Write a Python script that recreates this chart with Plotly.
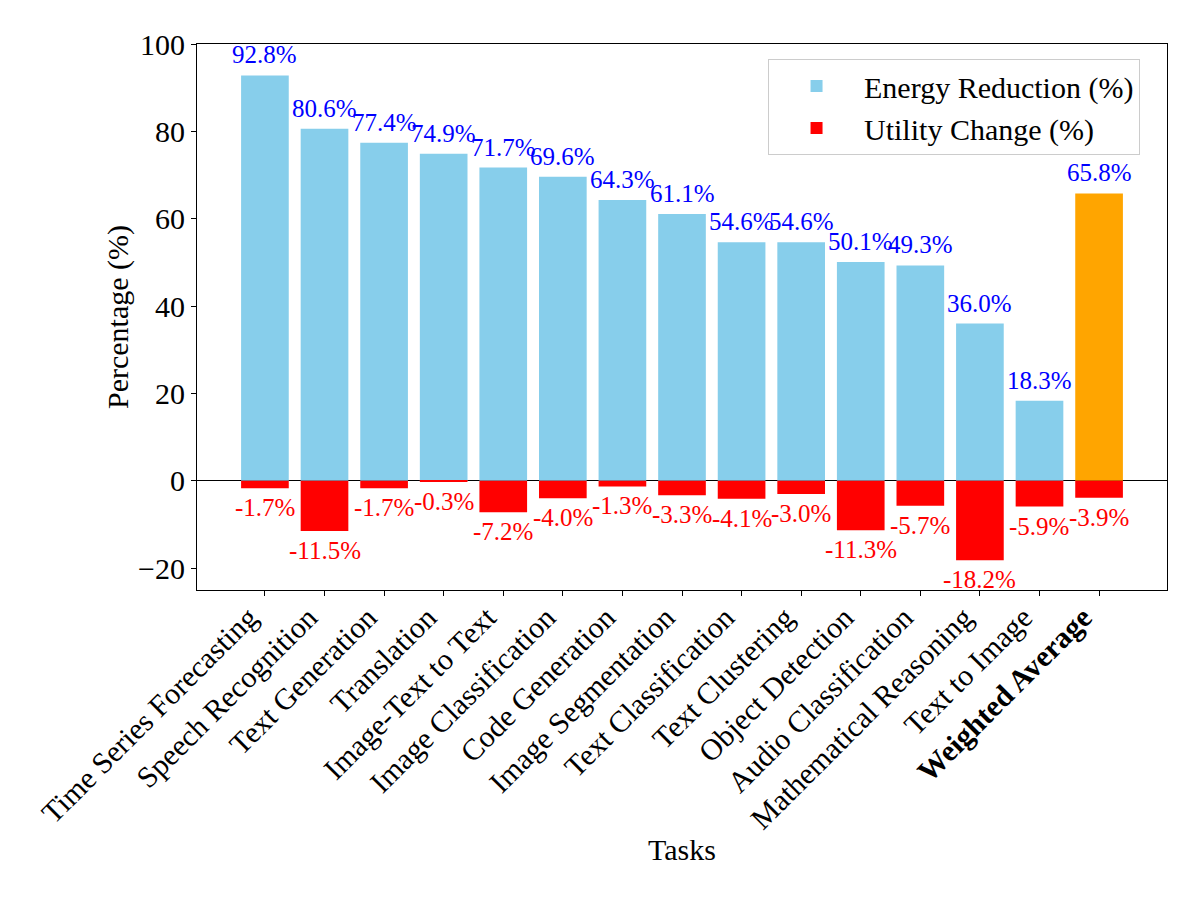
import plotly.graph_objects as go

tasks = ["Time Series Forecasting", "Speech Recognition", "Text Generation", "Translation",
         "Image-Text to Text", "Image Classification", "Code Generation", "Image Segmentation",
         "Text Classification", "Text Clustering", "Object Detection", "Audio Classification",
         "Mathematical Reasoning", "Text to Image", "Weighted Average"]
energy_reduction = [92.8, 80.6, 77.4, 74.9, 71.7, 69.6, 64.3, 61.1, 54.6, 54.6, 50.1, 49.3, 36.0, 18.3, 65.8]
utility_change = [-1.7, -11.5, -1.7, -0.3, -7.2, -4.0, -1.3, -3.3, -4.1, -3.0, -11.3, -5.7, -18.2, -5.9, -3.9]
yticks = [-20, 0, 20, 40, 60, 80, 100]

FONT = "Liberation Serif"
x = list(range(len(tasks)))
energy_colors = ["#87CEEB"] * (len(tasks) - 1) + ["#FFA500"]
ticktext = tasks[:-1] + ["<b>" + tasks[-1] + "</b>"]

fig = go.Figure()
fig.add_trace(go.Bar(x=x, y=energy_reduction, width=0.8, name="Energy Reduction (%)",
                     marker=dict(color=energy_colors, line=dict(width=0))))
fig.add_trace(go.Bar(x=x, y=utility_change, width=0.8, name="Utility Change (%)",
                     marker=dict(color="#FF0000", line=dict(width=0))))

annotations = []
for xi, v in zip(x, energy_reduction):
    annotations.append(dict(x=xi, y=v, text=f"{v:.1f}%", showarrow=False, yanchor="bottom",
                            yshift=5, font=dict(family=FONT, size=25, color="#0000FF")))
for xi, v in zip(x, utility_change):
    annotations.append(dict(x=xi, y=v, text=f"{v:.1f}%", showarrow=False, yanchor="top",
                            yshift=-4, font=dict(family=FONT, size=25, color="#FF0000")))

fig.update_layout(
    width=1200, height=900,
    paper_bgcolor="white", plot_bgcolor="white",
    margin=dict(l=189, r=41, t=36, b=318, autoexpand=False),
    barmode="overlay",
    font=dict(family=FONT, size=30, color="black"),
    annotations=annotations,
    showlegend=True,
    legend=dict(x=0.5887, y=0.9725, xanchor="left", yanchor="top",
                bgcolor="rgba(255,255,255,0.8)", bordercolor="#CCCCCC", borderwidth=1,
                font=dict(family=FONT, size=30), itemwidth=85),
)
fig.update_xaxes(range=[-1.14, 15.14], tickmode="array", tickvals=x, ticktext=ticktext,
                 tickangle=-45, ticks="outside", ticklen=5, tickwidth=1, tickcolor="black",
                 ticklabelshift=-16, ticklabelstandoff=-8,
                 showline=True, linecolor="black", linewidth=1, mirror=True, showgrid=False,
                 zeroline=False, tickfont=dict(family=FONT, size=30),
                 title=dict(text="Tasks", font=dict(family=FONT, size=30), standoff=4))
fig.update_yaxes(range=[-25, 100], tickmode="array", tickvals=yticks,
                 ticks="outside", ticklen=5, tickwidth=1, tickcolor="black",
                 showline=True, linecolor="black", linewidth=1, mirror=True, showgrid=False,
                 zeroline=True, zerolinecolor="black", zerolinewidth=1,
                 tickfont=dict(family=FONT, size=30),
                 title=dict(text="Percentage (%)", font=dict(family=FONT, size=30), standoff=0))

fig.write_html("out.html")
